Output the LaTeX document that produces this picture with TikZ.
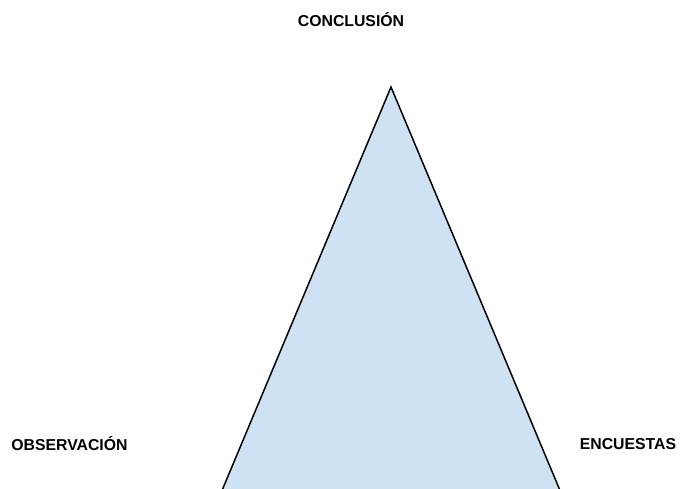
\documentclass[tikz,border=0pt]{standalone}
\usepackage{fontspec}
\setmainfont{Liberation Sans}
\definecolor{paleblue}{HTML}{CFE2F3}
\tikzset{
  label/.style={font=\fontsize{15.8}{18}\selectfont\bfseries, inner sep=0pt},
}
\begin{document}
\begin{tikzpicture}[x=1pt, y=-1pt]
      \useasboundingbox (0,0) rectangle (680,488);
      \clip (0,0) rectangle (680,488);
      \coordinate (top) at (391,87);
      \coordinate (left) at (222.2,490);
      \coordinate (right) at (559.8,490);
      \draw[fill=paleblue, line width=1.5pt, line join=miter] (top) -- (right) -- (left) -- cycle;
      \node[label] (conclusion) at (351,20) {CONCLUSIÓN};
      \node[label] (observacion) at (69.5,444) {OBSERVACIÓN};
      \node[label] (encuestas) at (628,444) {ENCUESTAS};
    \end{tikzpicture}
\end{document}
